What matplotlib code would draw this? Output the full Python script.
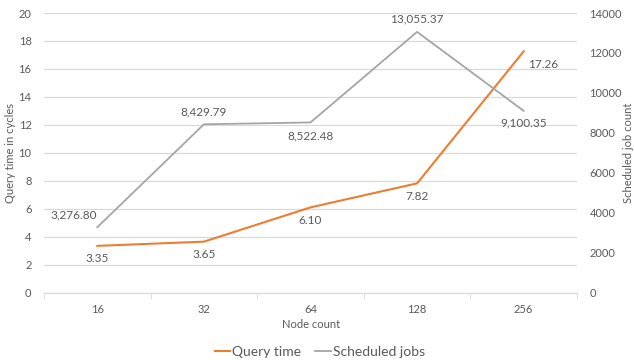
import matplotlib
matplotlib.use("Agg")
import matplotlib.pyplot as plt

categories = ["16", "32", "64", "128", "256"]
query_time = [3.35, 3.65, 6.10, 7.82, 17.26]
scheduled_jobs = [3276.80, 8429.79, 8522.48, 13055.37, 9100.35]

plt.rcParams['font.family'] = ['Lato', 'DejaVu Sans']
TXT = '#595959'
ORANGE = '#ED7D31'
GRAY = '#A5A5A5'
GRID = '#D9D9D9'

W, H = 634, 361
fig = plt.figure(figsize=(W/100, H/100), dpi=100)
ax = fig.add_axes([44/W, 1-292.7/H, (577-44)/W, (292.7-13)/H])
ax2 = ax.twinx()

x = list(range(len(categories)))
ax.plot(x, query_time, color=ORANGE, lw=1.5, zorder=3, label='Query time')
ax2.plot(x, scheduled_jobs, color=GRAY, lw=1.3, zorder=3, label='Scheduled jobs')

ax.set_xlim(-0.5, len(categories)-0.5)
ax.set_ylim(0, 20)
ax.set_yticks(range(0, 21, 2))
ax2.set_ylim(0, 14000)
ax2.set_yticks(range(0, 14001, 2000))

ax.set_xticks(x)
ax.set_xticklabels(categories)
ax.set_xticks([i-0.5 for i in range(len(categories)+1)], minor=True)
ax.tick_params(axis='x', which='major', length=0, pad=8, labelsize=8, labelcolor=TXT)
ax.tick_params(axis='x', which='minor', length=4, color=GRID, direction='out')
ax.tick_params(axis='y', length=0, pad=9, labelsize=8, labelcolor=TXT)
ax2.tick_params(axis='y', length=0, pad=9, labelsize=8, labelcolor=TXT)

ax.grid(axis='y', color=GRID, lw=0.9)
ax.set_axisbelow(True)
for a in (ax, ax2):
    for s in ('top', 'left', 'right'):
        a.spines[s].set_visible(False)
ax.spines['bottom'].set_color(GRID)
ax2.spines['bottom'].set_visible(False)

px = 0.72
q_off = [(0, -13), (0, -13), (0, -13), (0, -13), (4, -13)]
q_ha = ['center', 'center', 'center', 'center', 'left']
for i, v in enumerate(query_time):
    ax.annotate(f"{v:.2f}", (x[i], v), xytext=(q_off[i][0]*px, q_off[i][1]*px),
                textcoords='offset points', ha=q_ha[i], va='center', fontsize=8.5, color=TXT)
j_off = [(-24, 12), (0, 12), (0, -13), (0, 13), (0, -12)]
for i, v in enumerate(scheduled_jobs):
    ax2.annotate(f"{v:,.2f}", (x[i], v), xytext=(j_off[i][0]*px, j_off[i][1]*px),
                 textcoords='offset points', ha='center', va='center', fontsize=8.5, color=TXT)

fig.text(11/W, 1-153/H, 'Query time in cycles', rotation=90, ha='center', va='center', fontsize=8, color=TXT)
fig.text(629/W, 1-153/H, 'Scheduled job count', rotation=90, ha='center', va='center', fontsize=8, color=TXT)
fig.text(311/W, 1-325/H, 'Node count', ha='center', va='center', fontsize=8, color=TXT)

h1, l1 = ax.get_legend_handles_labels()
h2, l2 = ax2.get_legend_handles_labels()
leg = fig.legend(h1+h2, l1+l2, loc='center', bbox_to_anchor=(320/W, 1-352/H), ncol=2,
                 frameon=False, fontsize=10, handlelength=1.1, handletextpad=0.15,
                 columnspacing=1.0, labelcolor=TXT)

fig.savefig('out.png', dpi=100)
